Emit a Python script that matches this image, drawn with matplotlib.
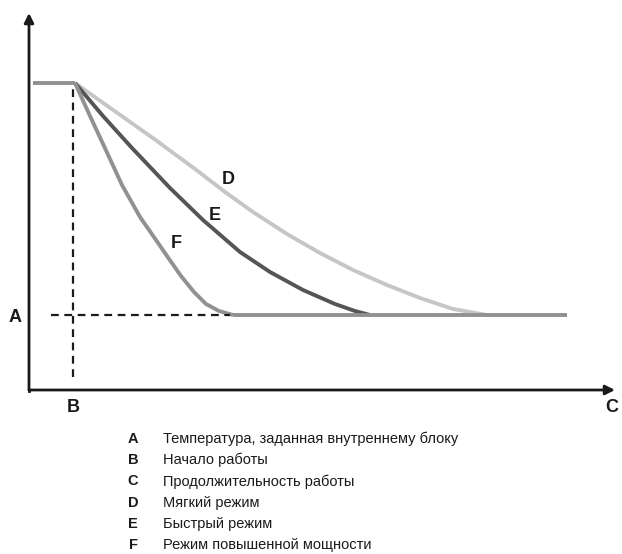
import numpy as np
import matplotlib.pyplot as plt

plt.rcParams['font.family'] = ['Liberation Sans', 'DejaVu Sans']

# время работы (усл. ед.) и температура (усл. ед.)
t_start = 46
temp_high = 307
temp_set = 75
t_end = 538

t_soft = [46, 87, 128, 166, 196, 224, 258, 291, 324, 358, 391, 424, 458]
y_soft = [307, 278, 249, 221, 198, 178, 156, 137, 120, 105, 92, 81, 75]

t_fast = [46, 74, 103, 141, 174, 211, 241, 274, 306, 326, 341]
y_fast = [307, 274, 242, 202, 170, 138, 118, 100, 86, 79, 75]

t_power = [46, 61, 75, 93, 111, 127, 138, 152, 165, 177, 190, 204]
y_power = [307, 274, 244, 205, 173, 150, 134, 114, 98, 86, 79, 75]

legend_keys = ['A', 'B', 'C', 'D', 'E', 'F']
legend_text = ['Температура, заданная внутреннему блоку',
               'Начало работы',
               'Продолжительность работы',
               'Мягкий режим',
               'Быстрый режим',
               'Режим повышенной мощности']

W, H = 622, 554
fig = plt.figure(figsize=(W / 100, H / 100), dpi=100)
# оси: начало координат в (29, 390) px
x0, y0, x1, y1 = 29, 390, 615, 13
ax = fig.add_axes([x0 / W, 1 - y0 / H, (x1 - x0) / W, (y0 - y1) / H])
ax.set_xlim(0, x1 - x0)
ax.set_ylim(0, y0 - y1)
ax.axis('off')

c_soft = '#c6c6c6'
c_fast = '#555555'
c_power = '#919191'
lw = 2.8

style = dict(lw=lw, solid_capstyle='butt', solid_joinstyle='round')
ax.plot(t_soft, y_soft, color=c_soft, **style)
ax.plot(t_fast, y_fast, color=c_fast, **style)
ax.plot(t_power, y_power, color=c_power, **style)
# участки постоянной температуры
ax.plot([4, t_start], [temp_high, temp_high], color=c_power, **style)
ax.plot([t_power[-1], t_end], [temp_set, temp_set], color=c_power, **style)

# пунктир: начало работы и заданная температура
ax.plot([44, 44], [13, 304], color='#1a1a1a', lw=1.6, ls=(0, (3.5, 2.5)))
ax.plot([22, 201], [temp_set, temp_set], color='#1a1a1a', lw=1.6,
        ls=(0, (3.5, 2.5)))

# стрелки осей
arrow = dict(arrowstyle='-|>', color='#1a1a1a', lw=2, mutation_scale=14,
             shrinkA=0, shrinkB=0)
ax.annotate('', xy=(x1 - x0, 0), xytext=(0, 0), arrowprops=arrow,
            annotation_clip=False)
ax.annotate('', xy=(0, y0 - y1), xytext=(0, 0), arrowprops=arrow,
            annotation_clip=False)
ax.plot([0, 0], [-1, 0], color='#1a1a1a', lw=2, solid_capstyle='projecting',
        clip_on=False)

lab = dict(fontsize=13, fontweight='bold', color='#1a1a1a',
           ha='center', va='center')
ax.text(199, 210, 'D', **lab)
ax.text(186, 175, 'E', **lab)
ax.text(147, 146, 'F', **lab)
ax.text(-14, temp_set - 3, 'A', clip_on=False, **lab)
ax.text(44, -17, 'B', clip_on=False, **lab)
ax.text(583, -18, 'C', clip_on=False, **lab)

for i, (k, s) in enumerate(zip(legend_keys, legend_text)):
    y = 1 - (439 + i * 21.2) / H
    fig.text(133 / W, y, k, fontsize=10.5, fontweight='bold', color='#1a1a1a',
             ha='center', va='center')
    fig.text(163 / W, y, s, fontsize=10.5, color='#1a1a1a',
             ha='left', va='center')

fig.savefig('out.png', dpi=100)
